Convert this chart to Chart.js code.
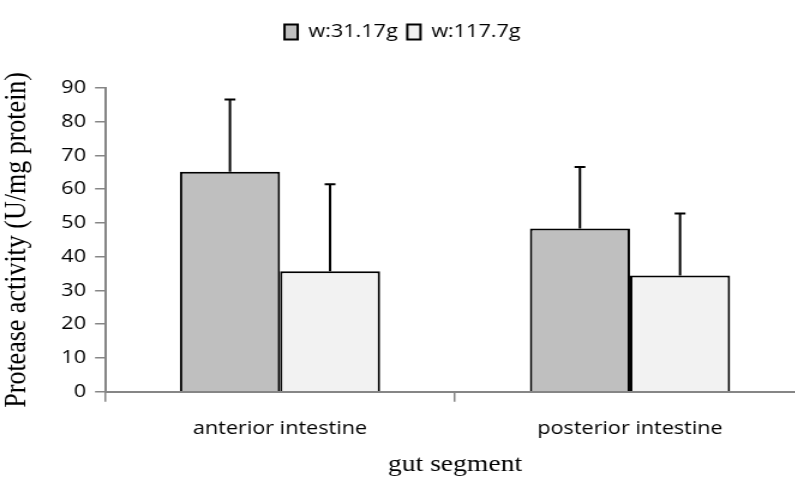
<!DOCTYPE html>
<html>
<head>
<meta charset="utf-8">
<script src="https://cdn.jsdelivr.net/npm/chart.js@4/dist/chart.umd.min.js"></script>
<style>
  body { margin: 0; overflow: hidden; background: #fff; }
</style>
</head>
<body>
<!-- the original figure is stretched sideways, so the canvas is drawn narrow and widened by css -->
<canvas id="gutChart" width="675" height="479" style="width:810px;height:479px;display:block"></canvas>
<script>
// data
const segments = ['anterior intestine', 'posterior intestine'];
const seriesNames = ['w:31.17g', 'w:117.7g'];
const smallFish = [65.2, 48.4];
const smallFishSD = [21.4, 18.2];
const bigFish = [35.7, 34.4];
const bigFishSD = [25.8, 18.4];
const yTicks = [0, 10, 20, 30, 40, 50, 60, 70, 80, 90];

const axisGrey = '#868686';
const tickFont = { family: 'Open Sans', size: 18 };

// upward-only error bars
const errorBars = {
    id: 'errorBars',
    afterDatasetsDraw(chart) {
        const ctx = chart.ctx;
        const y = chart.scales.y;
        const sds = [smallFishSD, bigFishSD];
        ctx.save();
        ctx.strokeStyle = '#000';
        ctx.lineWidth = 2;
        chart.data.datasets.forEach((ds, i) => {
            const meta = chart.getDatasetMeta(i);
            meta.data.forEach((bar, j) => {
                const top = y.getPixelForValue(ds.data[j] + sds[i][j]);
                ctx.beginPath();
                ctx.moveTo(bar.x, bar.y);
                ctx.lineTo(bar.x, top);
                ctx.moveTo(bar.x - 4.5, top);
                ctx.lineTo(bar.x + 4.5, top);
                ctx.stroke();
            });
        });
        ctx.restore();
    }
};

// leave a gap under the legend
const legendGap = {
    id: 'legendGap',
    afterInit(chart) {
        const fit = chart.legend.fit;
        chart.legend.fit = function () {
            fit.call(this);
            this.height += 37;
        };
    }
};

new Chart(document.getElementById('gutChart'), {
    type: 'bar',
    data: {
        labels: segments,
        datasets: [{
            label: seriesNames[0],
            data: smallFish,
            backgroundColor: '#bfbfbf',
            borderColor: '#000',
            borderWidth: 2,
            barPercentage: 1,
            categoryPercentage: 0.572
        }, {
            label: seriesNames[1],
            data: bigFish,
            backgroundColor: '#f2f2f2',
            borderColor: '#000',
            borderWidth: 2,
            barPercentage: 1,
            categoryPercentage: 0.572
        }]
    },
    options: {
        responsive: false,
        animation: false,
        layout: { padding: { top: 15, left: 0, right: 4.2, bottom: 0 } },
        plugins: {
            legend: {
                position: 'top',
                labels: {
                    boxWidth: 11,
                    boxHeight: 15,
                    padding: 8,
                    color: '#000',
                    font: tickFont
                }
            },
            tooltip: { enabled: false }
        },
        scales: {
            x: {
                afterFit(scale) { scale.height = 87.3; },
                grid: {
                    offset: true,
                    drawOnChartArea: false,
                    tickLength: 10,
                    color: axisGrey,
                    lineWidth: 1.5
                },
                border: { color: axisGrey, width: 2 },
                ticks: {
                    color: '#000',
                    padding: 16,
                    font: tickFont
                },
                title: {
                    display: true,
                    text: 'gut segment',
                    color: '#000',
                    padding: { top: 0, bottom: 0 },
                    font: { family: 'Liberation Serif', size: 23 }
                }
            },
            y: {
                min: 0,
                max: 90,
                afterBuildTicks(scale) {
                    scale.ticks = yTicks.map(v => ({ value: v }));
                },
                afterFit(scale) { scale.width = 87.5; },
                grid: {
                    drawOnChartArea: false,
                    tickLength: 8.3,
                    color: axisGrey,
                    lineWidth: 1.5
                },
                border: { color: axisGrey, width: 2 },
                ticks: {
                    color: '#000',
                    padding: 7.5,
                    font: tickFont
                },
                title: {
                    display: true,
                    text: 'Protease activity (U/mg protein)',
                    color: '#000',
                    padding: { top: 0, bottom: 0 },
                    font: { family: 'Liberation Serif', size: 26, lineHeight: 1.1 }
                }
            }
        }
    },
    plugins: [errorBars, legendGap]
});
</script>
</body>
</html>
